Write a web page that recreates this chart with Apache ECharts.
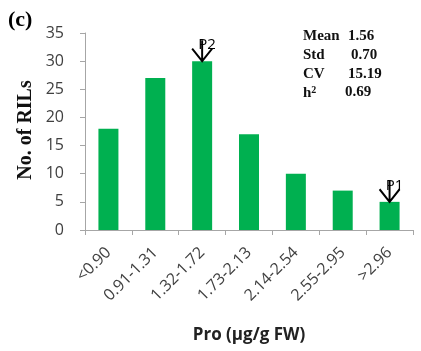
<!DOCTYPE html>
<html>
<head>
<meta charset="utf-8">
<script src="https://cdn.jsdelivr.net/npm/echarts@6/dist/echarts.min.js"></script>
<style>
  html, body { margin: 0; padding: 0; background: #fff; }
  #chart { width: 421px; height: 351px; }
</style>
</head>
<body>
<div id="chart"></div>
<script>
// Proline content classes and number of RILs in each class
const categories = ['<0.90', '0.91-1.31', '1.32-1.72', '1.73-2.13', '2.14-2.54', '2.55-2.95', '>2.96'];
const counts = [18, 27, 30, 17, 10, 7, 5];

// Parent positions marked with arrows: [class index, label]
const parents = [[2, 'P2'], [6, 'P1']];

// Summary statistics
const statNames = ['Mean', 'Std', 'CV', 'h2'];
const statValues = ['1.56', '0.70', '15.19', '0.69'];

const chart = echarts.init(document.getElementById('chart'), null, { renderer: 'canvas' });

const axisGray = '#A6A6A6';
const labelColor = '#404040';
const sansFont = '"Open Sans", sans-serif';
const serifFont = '"Liberation Serif", "Times New Roman", serif';

const statRowY = [37, 56, 75, 93];
const statValueX = [348, 351, 348, 345];
const statGraphics = [];
statNames.forEach((n, i) => {
  const isH2 = n === 'h2';
  statGraphics.push({
    type: 'text',
    left: 303,
    top: statRowY[i] - 8,
    style: {
      text: isH2 ? '{b|h}{sup|2}' : n,
      font: 'bold 15px ' + serifFont,
      fill: '#111',
      rich: isH2 ? {
        b: { font: 'bold 15px ' + serifFont, fill: '#111' },
        sup: { font: 'bold 10px ' + serifFont, fill: '#111', verticalAlign: 'top', padding: [0, 0, 6, 0] }
      } : undefined
    }
  });
  statGraphics.push({
    type: 'text',
    left: statValueX[i],
    top: statRowY[i] - 8,
    style: { text: statValues[i], font: 'bold 15px ' + serifFont, fill: '#111' }
  });
});

const option = {
  animation: false,
  backgroundColor: '#fff',
  grid: { left: 85, right: 8, top: 33, bottom: 121, containLabel: false },
  xAxis: {
    type: 'category',
    data: categories,
    axisLine: { show: true, lineStyle: { color: axisGray, width: 1 } },
    axisTick: { show: true, length: 5, lineStyle: { color: axisGray } },
    axisLabel: {
      rotate: 45,
      margin: 20,
      interval: 0,
      color: labelColor,
      fontFamily: sansFont,
      fontSize: 16
    },
    name: 'Pro (μg/g FW)',
    nameLocation: 'middle',
    nameGap: 97,
    nameTextStyle: { fontFamily: sansFont, fontSize: 17, fontWeight: 'bold', color: '#222' }
  },
  yAxis: {
    type: 'value',
    min: 0,
    max: 35,
    interval: 5,
    axisLine: { show: true, lineStyle: { color: axisGray, width: 1 } },
    axisTick: { show: true, length: 5, lineStyle: { color: axisGray } },
    splitLine: { show: false },
    axisLabel: { margin: 21, color: labelColor, fontFamily: sansFont, fontSize: 16 }
  },
  series: [{
    type: 'bar',
    data: counts,
    barWidth: 20,
    itemStyle: { color: '#00B050' },
    markPoint: {
      silent: true,
      symbol: 'path://M10 0 L10 20 M0 8 L10 20 L20 8',
      symbolSize: [20, 21],
      symbolOffset: [0, '-50%'],
      itemStyle: { color: 'none', borderColor: '#000', borderWidth: 2 },
      label: {
        show: true,
        formatter: p => p.name,
        position: 'insideTop',
        offset: [5, -5],
        color: '#000',
        fontFamily: sansFont,
        fontSize: 15
      },
      data: parents.map(([idx, name]) => ({ name: name, coord: [idx, counts[idx]] }))
    }
  }],
  graphic: [
    {
      type: 'text',
      left: 8,
      top: 9,
      style: { text: '(c)', font: 'bold 22px ' + serifFont, fill: '#000' }
    },
    {
      type: 'text',
      x: 26,
      y: 130,
      rotation: Math.PI / 2,
      style: {
        text: 'No. of RILs',
        font: 'bold 20px ' + serifFont,
        fill: '#111',
        align: 'center',
        verticalAlign: 'middle'
      }
    }
  ].concat(statGraphics)
};

chart.setOption(option);
</script>
</body>
</html>
